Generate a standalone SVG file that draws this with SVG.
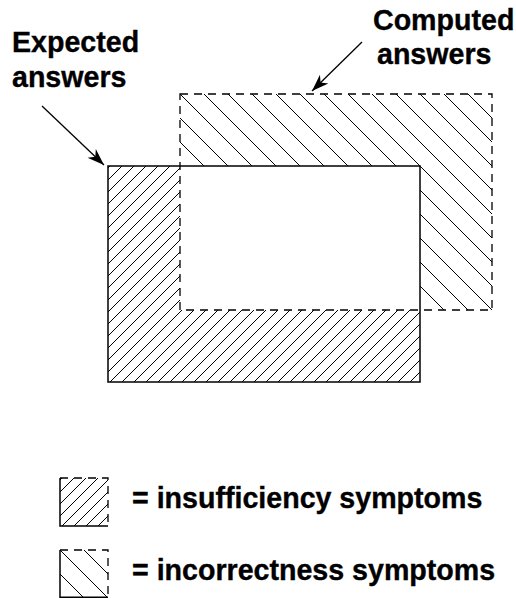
<svg xmlns="http://www.w3.org/2000/svg" width="516" height="598" viewBox="0 0 516 598">
<style>
.lbl{font-family:"Liberation Sans",Arial,Helvetica,sans-serif;font-weight:bold;font-size:28.6px;fill:#000;stroke:#000;stroke-width:0.35}
.solid{fill:none;stroke:#000;stroke-width:1.5}
.dash{fill:none;stroke:#000;stroke-width:1.3;stroke-dasharray:8,6}
.conn{fill:none;stroke:#000;stroke-width:1.3}
</style>
<defs>
<pattern id="hatchA" patternUnits="userSpaceOnUse" width="12" height="12">
<path d="M-3,3 L3,-3 M0,12 L12,0 M9,15 L15,9" stroke="#000" stroke-width="1"/>
</pattern>
<pattern id="hatchB" patternUnits="userSpaceOnUse" x="14" y="0" width="24" height="24">
<path d="M0,0 L24,24 M-6,18 L6,30 M18,-6 L30,6" stroke="#000" stroke-width="1"/>
</pattern>
<marker id="arr" viewBox="-18 -7 20 14" refX="0" refY="0" markerWidth="20" markerHeight="14" markerUnits="userSpaceOnUse" orient="auto">
<path d="M0,0 L-17,-6 L-12,0 L-17,6 Z" fill="#000"/>
</marker>
</defs>
<g id="insufficiency-region">
<path d="M108,166 H180 V310 H420 V382 H108 Z" fill="url(#hatchA)"/>
</g>
<g id="incorrectness-region">
<path d="M180,94 H492 V310 H420 V166 H180 Z" fill="url(#hatchB)"/>
</g>
<g id="expected">
<rect x="108" y="166" width="312" height="216" class="solid"/>
</g>
<g id="computed">
<rect x="180" y="94" width="312" height="216" class="dash"/>
</g>
<g id="expected-label">
<text x="12" y="52" class="lbl">Expected</text>
<text x="12" y="87" class="lbl">answers</text>
</g>
<g id="computed-label">
<text x="373" y="30" class="lbl">Computed</text>
<text x="377" y="64" class="lbl">answers</text>
</g>
<g id="connectors">
<line x1="42" y1="106" x2="104" y2="165" class="conn" marker-end="url(#arr)"/>
<line x1="362" y1="42" x2="312" y2="91" class="conn" marker-end="url(#arr)"/>
</g>
<g id="legend-insufficiency">
<rect x="60" y="478" width="48" height="48" fill="url(#hatchA)"/>
<path d="M60,478 V526 H108" class="solid"/>
<path d="M60,478 H108 V526" class="dash"/>
<text x="132" y="508" class="lbl">= insufficiency symptoms</text>
</g>
<g id="legend-incorrectness">
<rect x="60" y="550" width="48" height="48" fill="url(#hatchB)"/>
<path d="M60,550 V597.3 H108" class="solid"/>
<path d="M60,550 H108 V598" class="dash"/>
<text x="132" y="580" class="lbl">= incorrectness symptoms</text>
</g>
</svg>
